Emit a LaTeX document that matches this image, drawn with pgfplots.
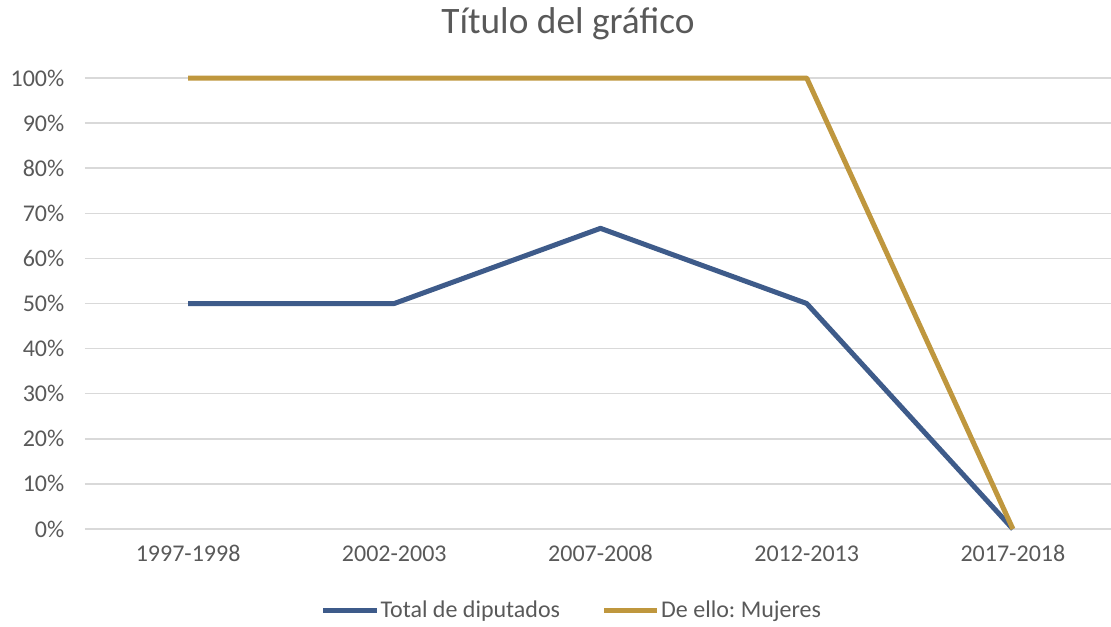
\documentclass[border=0pt]{standalone}
\usepackage{pgfplots}
\pgfplotsset{compat=1.18}
\usepackage{fontspec}
\setmainfont{Carlito}
\frenchspacing
\definecolor{serieblue}{RGB}{62,91,138}
\definecolor{seriegold}{RGB}{191,151,62}
\definecolor{txtgray}{RGB}{89,89,89}
\definecolor{gridgray}{RGB}{217,217,217}

\begin{document}
\begin{tikzpicture}
% page = 1111 x 626 px, 1px = 0.75pt
\useasboundingbox (0,0) rectangle (833.25pt,469.5pt);
\begin{axis}[
    at={(63.75pt,72.75pt)}, anchor=south west,
    scale only axis,
    width=773.25pt, height=338.25pt,
    xmin=-0.5, xmax=4.5,
    ymin=0, ymax=100,
    axis line style={draw=none},
    xtick={0,1,2,3,4},
    xticklabels={1997-1998,2002-2003,2007-2008,2012-2013,2017-2018},
    ytick={0,10,...,100},
    yticklabel={\pgfmathprintnumber{\tick}\%},
    /pgf/number format/assume math mode=true,
    tick style={draw=none},
    ymajorgrids,
    grid style={gridgray, line width=1.1pt},
    ticklabel style={font=\fontsize{18}{21}\selectfont, text=txtgray},
    yticklabel style={xshift=-12pt},
    xticklabel style={yshift=-9pt, text height=12pt, text depth=3pt},
    clip=false,
    legend columns=2,
    legend style={draw=none, fill=none,
        at={(0.472,-0.18)}, anchor=center,
        font=\fontsize{18}{21}\selectfont, text=txtgray,
        /tikz/every even column/.append style={column sep=30pt},
        /tikz/every odd column/.append style={column sep=0pt},
        nodes={inner xsep=1pt}},
    legend image code/.code={\draw[#1, line width=3.75pt] (0pt,0pt) -- (40pt,0pt);},
    legend cell align=left,
]
\addplot[serieblue, line width=3.75pt, line join=round] coordinates {
    (0,50) (1,50) (2,66.67) (3,50) (4,0)};
\addlegendentry{Total de diputados}
\addplot[seriegold, line width=3.75pt, line join=round] coordinates {
    (0,100) (1,100) (2,100) (3,100) (4,0)};
\addlegendentry{De ello: Mujeres}
\end{axis}
\node[text=txtgray, font=\fontsize{28}{33}\selectfont] at (426pt,452pt) {Título del gráfico};
\end{tikzpicture}
\end{document}
